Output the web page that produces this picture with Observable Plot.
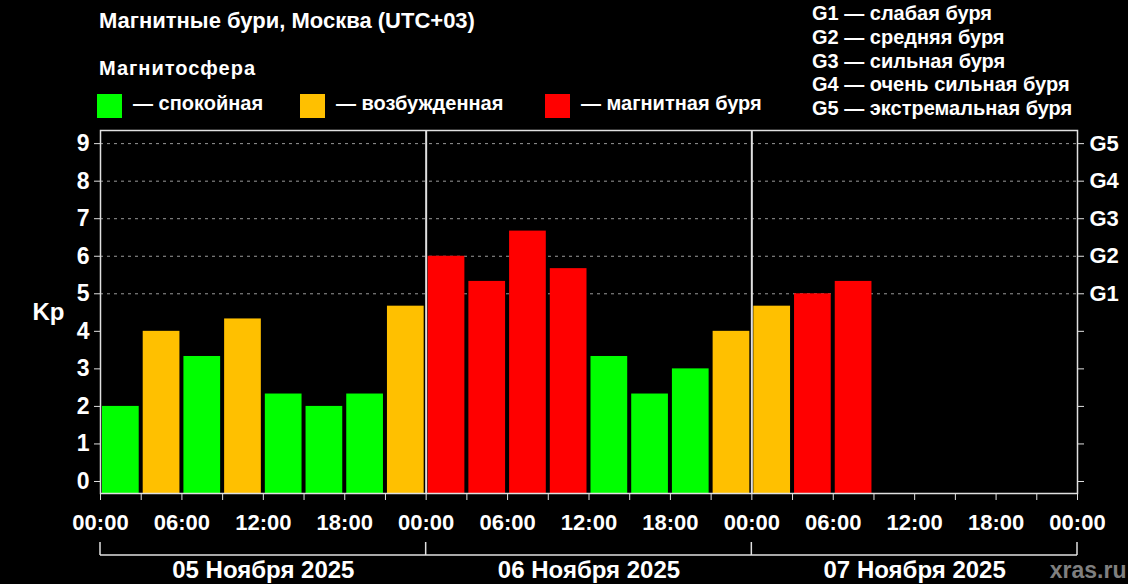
<!DOCTYPE html>
<html><head><meta charset="utf-8">
<script src="https://cdn.jsdelivr.net/npm/d3@7"></script>
<script src="https://cdn.jsdelivr.net/npm/@observablehq/plot@0.6"></script>
<style>
html,body{margin:0;padding:0;background:#000;}
body{width:1128px;height:584px;overflow:hidden;font-family:"Liberation Sans",Arial,sans-serif;font-weight:bold;color:#fff;}
#header{position:relative;height:125px;}
.abs{position:absolute;white-space:nowrap;line-height:1;}
.sw{position:absolute;width:25px;height:24px;}
#chart svg{display:block;}
</style></head><body>
<div id="header"></div>
<div id="chart"></div>
<script>
const title = "Магнитные бури, Москва (UTC+03)";
const legendTitle = "Магнитосфера";
const states = ["спокойная", "возбужденная", "магнитная буря"];
const stateColors = ["#00ff00", "#ffc000", "#ff0000"];
const gNames = ["слабая буря", "средняя буря", "сильная буря", "очень сильная буря", "экстремальная буря"];
const gLabels = ["G1", "G2", "G3", "G4", "G5"];
const gKp = [5, 6, 7, 8, 9];
const days = ["05 Ноября 2025", "06 Ноября 2025", "07 Ноября 2025"];
const hourLabels = ["00:00", "06:00", "12:00", "18:00"];
const kp05 = [2, 4, 3.33, 4.33, 2.33, 2, 2.33, 4.67];
const kp06 = [6, 5.33, 6.67, 5.67, 3.33, 2.33, 3, 4];
const kp07 = [4.67, 5, 5.33];
const source = "xras.ru";

const stateOf = kp => kp < 4 ? 0 : kp < 5 ? 1 : 2;
const data = [kp05, kp06, kp07].flatMap((arr, di) =>
  arr.map((kp, i) => ({start: di * 24 + i * 3, end: di * 24 + i * 3 + 3, kp, state: states[stateOf(kp)]})));

// header
const header = document.getElementById("header");
function addText(txt, left, top, size, ls) {
  const d = document.createElement("div");
  d.className = "abs"; d.textContent = txt;
  d.style.left = left + "px"; d.style.top = top + "px"; d.style.fontSize = size + "px";
  if (ls) d.style.letterSpacing = ls + "px";
  header.appendChild(d);
}
addText(title, 99, 9.7, 22);
addText(legendTitle, 99, 58, 20, 1);
const swX = [97, 300, 545];
states.forEach((s, i) => {
  const sq = document.createElement("div");
  sq.className = "sw"; sq.style.left = swX[i] + "px"; sq.style.top = "94px"; sq.style.background = stateColors[i];
  header.appendChild(sq);
  addText("— " + s, swX[i] + 36, 93, 20);
});
gLabels.forEach((g, i) => addText(g + " — " + gNames[i], 812, 3.1 + i * 23.75, 20));

const yMin = -0.32, yMax = 9.35;
const dayBounds = d3.range(days.length + 1).map(i => i * 24);

function brackets(index, scales, values, dims) {
  const x = scales.x;
  const yb = dims.height - dims.marginBottom;
  const g = d3.create("svg:g").attr("stroke", "#e0e0e0").attr("stroke-width", 1.5).attr("fill", "none");
  g.append("line").attr("x1", x(dayBounds[0])).attr("x2", x(dayBounds[dayBounds.length - 1])).attr("y1", yb + 62).attr("y2", yb + 62);
  for (const e of dayBounds) g.append("line").attr("x1", x(e)).attr("x2", x(e)).attr("y1", yb + 49).attr("y2", yb + 62);
  return g.node();
}

const chart = Plot.plot({
  width: 1128, height: 459,
  marginTop: 5, marginBottom: 91, marginLeft: 100, marginRight: 51,
  style: {background: "#000", color: "#fff", fontFamily: "'Liberation Sans', Arial, sans-serif", fontWeight: "bold", fontSize: "20px", overflow: "visible"},
  x: {domain: [0, 72]},
  y: {domain: [yMin, yMax]},
  color: {domain: states, range: stateColors},
  marks: [
    Plot.gridY(gKp, {stroke: "#9a9a9a", strokeOpacity: 1, strokeDasharray: "3,4", strokeWidth: 1}),
    Plot.rect(data, {x1: "start", x2: "end", y1: yMin, y2: "kp", fill: "state", insetLeft: 2, insetRight: 2}),
    Plot.ruleX(dayBounds.slice(1, -1), {stroke: "#e0e0e0", strokeWidth: 2}),
    Plot.frame({stroke: "#e0e0e0", strokeWidth: 1.5}),
    Plot.axisY({anchor: "left", ticks: d3.range(0, 10), tickSize: 6, tickPadding: 5, tickFormat: d => String(d), label: null, fontSize: 23, stroke: "#e0e0e0"}),
    Plot.axisY({anchor: "right", ticks: d3.range(0, 10), tickSize: 6, tickPadding: 6, tickFormat: d => d >= gKp[0] ? gLabels[gKp.indexOf(d)] : "", label: null, fontSize: 22, stroke: "#e0e0e0"}),
    Plot.axisX({anchor: "bottom", ticks: d3.range(0, 73, 3), tickSize: 7, tickFormat: () => "", label: null, stroke: "#e0e0e0"}),
    Plot.axisX({anchor: "bottom", ticks: d3.range(0, 73, 6), tickSize: 0, tickPadding: 21, tickFormat: d => hourLabels[(d % 24) / 6], label: null, fontSize: 22, letterSpacing: "0.6px"}),
    Plot.text(["Kp"], {frameAnchor: "left", dx: -52, textAnchor: "middle", fontSize: 24, fill: "#fff"}),
    brackets,
    Plot.text(days, {x: (d, i) => dayBounds[i] + 12, frameAnchor: "bottom", dy: 84, fontSize: 24, fill: "#fff"}),
    Plot.text([source], {frameAnchor: "bottom-right", dx: 49, dy: 84, textAnchor: "end", fontSize: 23, fill: "#7f7f7f"})
  ]
});
document.getElementById("chart").appendChild(chart);
</script>
</body></html>
